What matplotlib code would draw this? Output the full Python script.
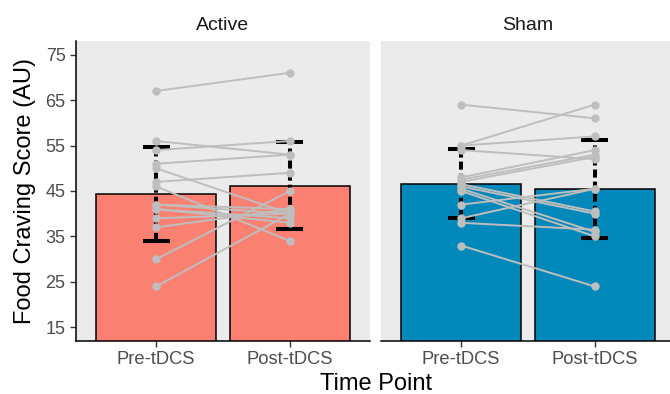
import matplotlib
matplotlib.use("Agg")
import matplotlib.pyplot as plt
import numpy as np

plt.rcParams['font.family'] = ['Liberation Sans', 'DejaVu Sans']

panels = ['Active', 'Sham']
time_points = ['Pre-tDCS', 'Post-tDCS']
y_ticks = [15, 25, 35, 45, 55, 65, 75]

# group means and error bar half widths
active_mean = [44.4, 46.2]
active_err = [10.35, 9.5]
sham_mean = [46.6, 45.4]
sham_err = [7.55, 10.75]

# single subjects, pre -> post
active_pre = [67, 56, 54, 51, 50, 47, 46, 42, 42, 41, 41, 39, 37, 30, 24]
active_post = [71, 53, 56, 53, 40, 49, 34, 41, 40, 39, 38, 40, 41, 45, 40]
sham_pre = [64, 55, 55, 54, 48, 47.5, 47, 46.5, 46, 45.5, 45, 42, 39, 38, 33]
sham_post = [61, 64, 57, 52, 54, 53, 52.5, 40.5, 40, 36, 35, 45.5, 45.5, 36.5, 24]

means = {'Active': active_mean, 'Sham': sham_mean}
errs = {'Active': active_err, 'Sham': sham_err}
subjects = {'Active': (active_pre, active_post), 'Sham': (sham_pre, sham_post)}
fill = {'Active': '#FA8072', 'Sham': '#0088BA'}

fig = plt.figure(figsize=(6.7, 3.94), dpi=100)
W, H = 670, 394
axes = [fig.add_axes([76 / W, 1 - 341 / H, 294 / W, 300 / H]),
        fig.add_axes([381 / W, 1 - 341 / H, 294 / W, 300 / H])]

x = np.arange(len(time_points))
for ax, name in zip(axes, panels):
    ax.set_facecolor('#EBEBEB')
    ax.bar(x, means[name], width=0.9, color=fill[name], edgecolor='black',
           linewidth=1.1, zorder=1)
    lo = np.array(means[name]) - np.array(errs[name])
    hi = np.array(means[name]) + np.array(errs[name])
    ax.vlines(x, lo, hi, colors='black', linewidth=2.9,
              linestyles=(0, (2.0, 1.0)), zorder=2)
    ax.hlines(np.r_[lo, hi], np.r_[x, x] - 0.1, np.r_[x, x] + 0.1,
              colors='black', linewidth=2.9, zorder=2)
    pre, post = subjects[name]
    for a, b in zip(pre, post):
        ax.plot(x, [a, b], color='#BEBEBE', linewidth=1.4, marker='o',
                markersize=5, zorder=3)
    ax.set_xlim(0.4 - 1, 2.6 - 1)
    ax.set_ylim(12, 78)
    ax.set_xticks(x)
    ax.set_xticklabels(time_points, fontsize=13.2, color='#4D4D4D')
    ax.set_yticks(y_ticks)
    ax.tick_params(colors='#333333', length=4, width=1)
    ax.tick_params(axis='x', labelcolor='#4D4D4D')
    ax.tick_params(axis='y', labelcolor='#4D4D4D', labelsize=13)
    ax.set_title(name, fontsize=14, color='#1A1A1A', pad=8)
    for s in ['top', 'right']:
        ax.spines[s].set_visible(False)
    ax.spines['bottom'].set_linewidth(1.1)
    ax.spines['left'].set_linewidth(1.1)

axes[1].spines['left'].set_visible(False)
axes[1].tick_params(axis='y', left=False, labelleft=False)

fig.text(25 / W, 1 - 191 / H, 'Food Craving Score (AU)', rotation=90,
         fontsize=17, ha='center', va='center')
fig.text(376 / W, 1 - 390 / H, 'Time Point', fontsize=17, ha='center',
         va='baseline')

fig.savefig('out.png', dpi=100)
